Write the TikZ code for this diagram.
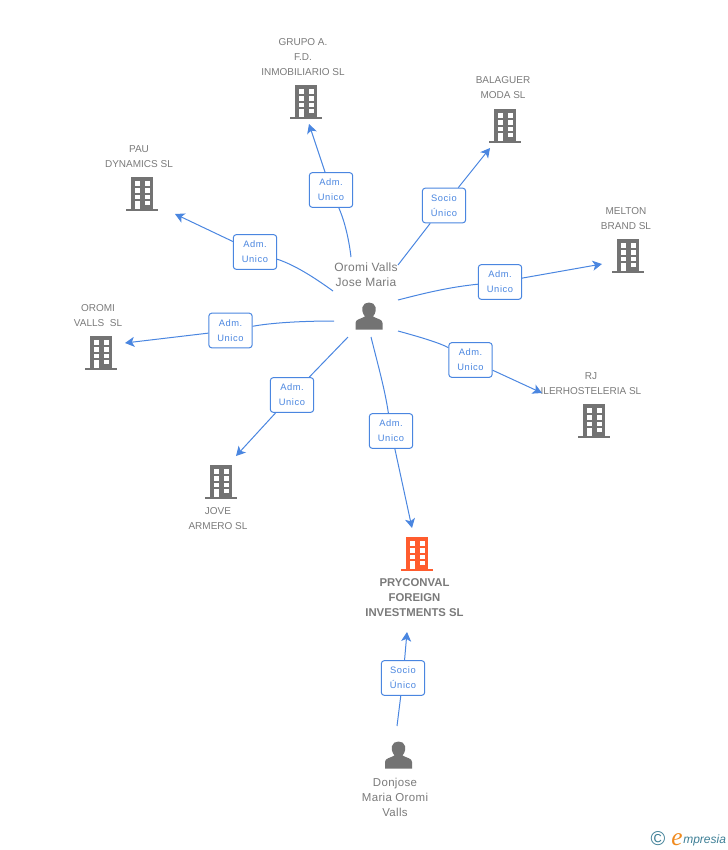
\documentclass[tikz,border=0pt]{standalone}
\usepackage{fontspec}
\setmainfont{Liberation Sans}
\newfontfamily\logoserif{Liberation Serif}
\usetikzlibrary{arrows.meta}
\definecolor{linkblue}{HTML}{4A86E0}
\definecolor{txtgray}{HTML}{7A7A7A}
\definecolor{icongray}{HTML}{737373}
\definecolor{iconred}{HTML}{FF5C2E}
\definecolor{logoteal}{HTML}{3E7F96}
\definecolor{logoorange}{HTML}{F08A1E}
\tikzset{
  x=0.75pt,y=-0.75pt,
  lbl/.style={font=\fontsize{7.5}{11.25}\selectfont,text=txtgray,align=center,inner sep=0pt},
  rel/.style={draw=linkblue,line width=0.75pt,rounded corners=2.2pt,fill=white,minimum width=32.5pt,minimum height=26pt,inner sep=0pt,align=center,text=linkblue,font=\fontsize{7}{11.25}\selectfont\addfontfeatures{LetterSpace=6}},
  lnk/.style={draw=linkblue,line width=0.75pt},
  arr/.style={lnk,-{Stealth[width=7.5pt,length=7pt,inset=1.8pt]}},
  pics/bld/.style={code={
    \fill[#1] (-11,-17) rectangle (11,15);
    \fill[#1] (-16,14.5) rectangle (16,17);
    \foreach \yy/\hh in {-12.7/4.7,-6/4.7,0.7/4.6}{
      \fill[white] (-7.3,\yy) rectangle (-2,\yy+\hh);
      \fill[white] (2.7,\yy) rectangle (8,\yy+\hh);
    }
    \fill[white] (-7,7) rectangle (-2,15);
    \fill[white] (2.7,6.5) rectangle (8,11.3);
  }},
  pics/prs/.style={code={
    \fill[icongray] (-13.5,13.5) -- (-13.5,7) .. controls (-13.5,3) and (-8,3) .. (-4,0.5)
      .. controls (-7,-3) and (-7,-7) .. (-6.5,-9) .. controls (-5.5,-15) and (5.5,-15) .. (6.5,-9)
      .. controls (7,-7) and (7,-3) .. (4,0.5) .. controls (8,3) and (13.5,3) .. (13.5,7) -- (13.5,13.5) -- cycle;
  }}
}
\begin{document}
\begin{tikzpicture}
\useasboundingbox (0,0) rectangle (728,850);
% icons
\pic at (306,102) {bld=icongray};
\pic at (505,126) {bld=icongray};
\pic at (142,194) {bld=icongray};
\pic at (628,256) {bld=icongray};
\pic at (101,353) {bld=icongray};
\pic at (594,421) {bld=icongray};
\pic at (221,482) {bld=icongray};
\pic at (417,554) {bld=iconred};
\pic at (369,316) {prs};
\pic at (398.5,755) {prs};
% labels
\node[lbl] (tgrupo) at (303,57) {GRUPO A.\\F.D.\\INMOBILIARIO SL};
\node[lbl] (tbal) at (503,88) {BALAGUER\\MODA SL};
\node[lbl] (tpau) at (139,156.5) {PAU\\DYNAMICS SL};
\node[lbl] (tmel) at (626,218.5) {MELTON\\BRAND SL};
\node[lbl] (toro) at (98,315.5) {OROMI\\VALLS~ SL};
\node[lbl] (trj) at (591,383.5) {RJ\\ILERHOSTELERIA SL};
\node[lbl] (tjov) at (218,519) {JOVE\\ARMERO SL};
\node[lbl,font=\fontsize{8.5}{11.25}\selectfont\bfseries] (tpry) at (414.5,598) {PRYCONVAL\\FOREIGN\\INVESTMENTS SL};
\node[lbl,font=\fontsize{9}{11.25}\selectfont\addfontfeatures{LetterSpace=2}] (tjose) at (366,275) {Oromi Valls\\Jose Maria};
\node[lbl,font=\fontsize{8.6}{11.25}\selectfont\addfontfeatures{LetterSpace=3}] (tdon) at (395,797) {Donjose\\Maria Oromi\\Valls};
% relation boxes
\node[rel] (r1) at (331,190) {Adm.\\Unico};
\node[rel] (r2) at (444,205.5) {Socio\\Único};
\node[rel] (r3) at (500,282) {Adm.\\Unico};
\node[rel] (r4) at (470.5,360) {Adm.\\Unico};
\node[rel] (r5) at (391,431) {Adm.\\Unico};
\node[rel] (r6) at (292,395) {Adm.\\Unico};
\node[rel] (r7) at (230.5,330.5) {Adm.\\Unico};
\node[rel] (r8) at (255,252) {Adm.\\Unico};
\node[rel] (r9) at (403,678) {Socio\\Único};
% free ends
\coordinate (s1) at (351,257); \coordinate (e1) at (309,124);
\coordinate (s2) at (398,265); \coordinate (e2) at (490,148);
\coordinate (s3) at (398,300); \coordinate (e3) at (602,264);
\coordinate (s4) at (398,331); \coordinate (e4) at (542,393);
\coordinate (s5) at (371,337); \coordinate (e5) at (412,528);
\coordinate (s6) at (348,337); \coordinate (e6) at (236,456);
\coordinate (s7) at (334,321); \coordinate (e7) at (125,343);
\coordinate (s8) at (333,291); \coordinate (e8) at (175,214);
\coordinate (s9) at (397,726); \coordinate (e9) at (407,632);
% connectors
\draw[lnk] (s1) .. controls (349,240) and (345,222) .. (r1);
\draw[arr] (r1) -- (e1);
\draw[lnk] (s2) -- (r2);
\draw[arr] (r2) -- (e2);
\draw[lnk] (s3) .. controls (425,293) and (450,287) .. (r3);
\draw[arr] (r3) -- (e3);
\draw[lnk] (s4) .. controls (420,337) and (440,343) .. (r4);
\draw[arr] (r4) -- (e4);
\draw[lnk] (s5) .. controls (378,365) and (385,390) .. (r5);
\draw[arr] (r5) -- (e5);
\draw[lnk] (s6) -- (r6);
\draw[arr] (r6) -- (e6);
\draw[lnk] (s7) .. controls (300,321) and (270,323) .. (r7);
\draw[arr] (r7) -- (e7);
\draw[lnk] (s8) .. controls (315,278) and (295,265) .. (r8);
\draw[arr] (r8) -- (e8);
\draw[lnk] (s9) -- (r9);
\draw[arr] (r9) -- (e9);
% logo
\node[font=\fontsize{15}{15}\selectfont,text=logoteal,inner sep=0pt] (lc) at (658,839) {\textcopyright};
\node[font=\fontsize{19}{19}\selectfont\logoserif\itshape,text=logoorange,inner sep=0pt] (le) at (677,840) {e};
\node[font=\fontsize{9}{10}\selectfont\itshape,text=logoteal,inner sep=0pt,anchor=west] (lm) at (683,840) {mpresia};
\end{tikzpicture}
\end{document}
